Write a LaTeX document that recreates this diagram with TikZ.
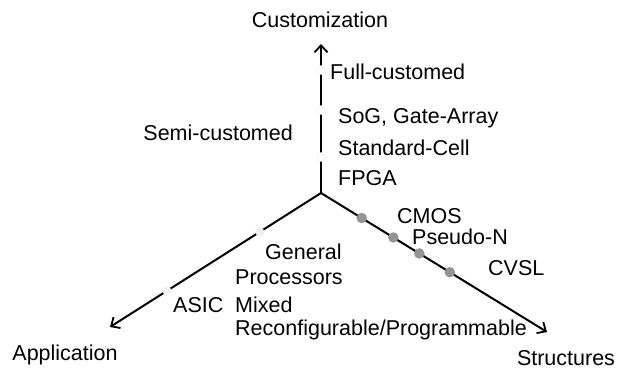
\documentclass[tikz,border=0pt]{standalone}
\usepackage{fontspec}
\setmainfont{Liberation Sans}
\usetikzlibrary{arrows.meta,calc}
\begin{document}
\begin{tikzpicture}[x=1pt,y=-1pt,
  lbl/.style={font=\fontsize{21.5}{26}\selectfont, inner sep=0pt, anchor=west},
  clbl/.style={font=\fontsize{21.5}{26}\selectfont, inner sep=0pt},
  axis/.style={line width=2pt, -{Straight Barb[length=7pt,width=13pt,line width=1.8pt]}},
  wdot/.style={circle, fill=white, draw=black!8, line width=0.4pt, inner sep=0pt, minimum size=9pt},
  ldot/.style={circle, fill=black!6, inner sep=0pt, minimum size=9pt},
  gdot/.style={circle, fill=black!42, inner sep=0pt, minimum size=10.5pt}]
\useasboundingbox (0,0) rectangle (633,369);
\coordinate (O) at (321,193);
\coordinate (T) at (321,44);
\coordinate (L) at (110,327);
\coordinate (R) at (547,332);
\draw[axis] (O) -- (T);
\draw[axis] (O) -- (L);
\draw[axis] (O) -- (R);
% dots on vertical axis
\node[wdot] (v1) at (321,70) {};
\node[wdot] (v2) at (321,110) {};
\node[wdot] (v3) at (321,157) {};
% dots on left axis
\node[ldot] (l1) at ($(O)!0.29!(L)$) {};
\node[ldot] (l2) at ($(O)!0.73!(L)$) {};
% dots on right axis
\node[gdot] (r1) at ($(O)!0.18!(R)$) {};
\node[gdot] (r2) at ($(O)!0.32!(R)$) {};
\node[gdot] (r3) at ($(O)!0.435!(R)$) {};
\node[gdot] (r4) at ($(O)!0.57!(R)$) {};
% labels
\node[clbl] (cust) at (320,20) {Customization};
\node[clbl] (app) at (65,355) {Application};
\node[clbl] (str) at (566,358) {Structures};
\node[lbl] (full) at (330,72) {Full-customed};
\node[lbl] (sog) at (338,118) {SoG, Gate-Array};
\node[lbl] (std) at (338,148) {Standard-Cell};
\node[lbl] (fpga) at (338,178) {FPGA};
\node[lbl, anchor=east] (semi) at (293,133) {Semi-customed};
\node[lbl] (cmos) at (397,216) {CMOS};
\node[lbl] (pseudo) at (412,237) {Pseudo-N};
\node[lbl] (cvsl) at (488,268) {CVSL};
\node[lbl] (gen) at (265,252) {General};
\node[lbl] (proc) at (235,277) {Processors};
\node[lbl] (mixed) at (235,305) {Mixed};
\node[lbl] (reconf) at (235,330) {Reconfigurable/Programmable};
\node[lbl] (asic) at (173,305) {ASIC};
\end{tikzpicture}
\end{document}
